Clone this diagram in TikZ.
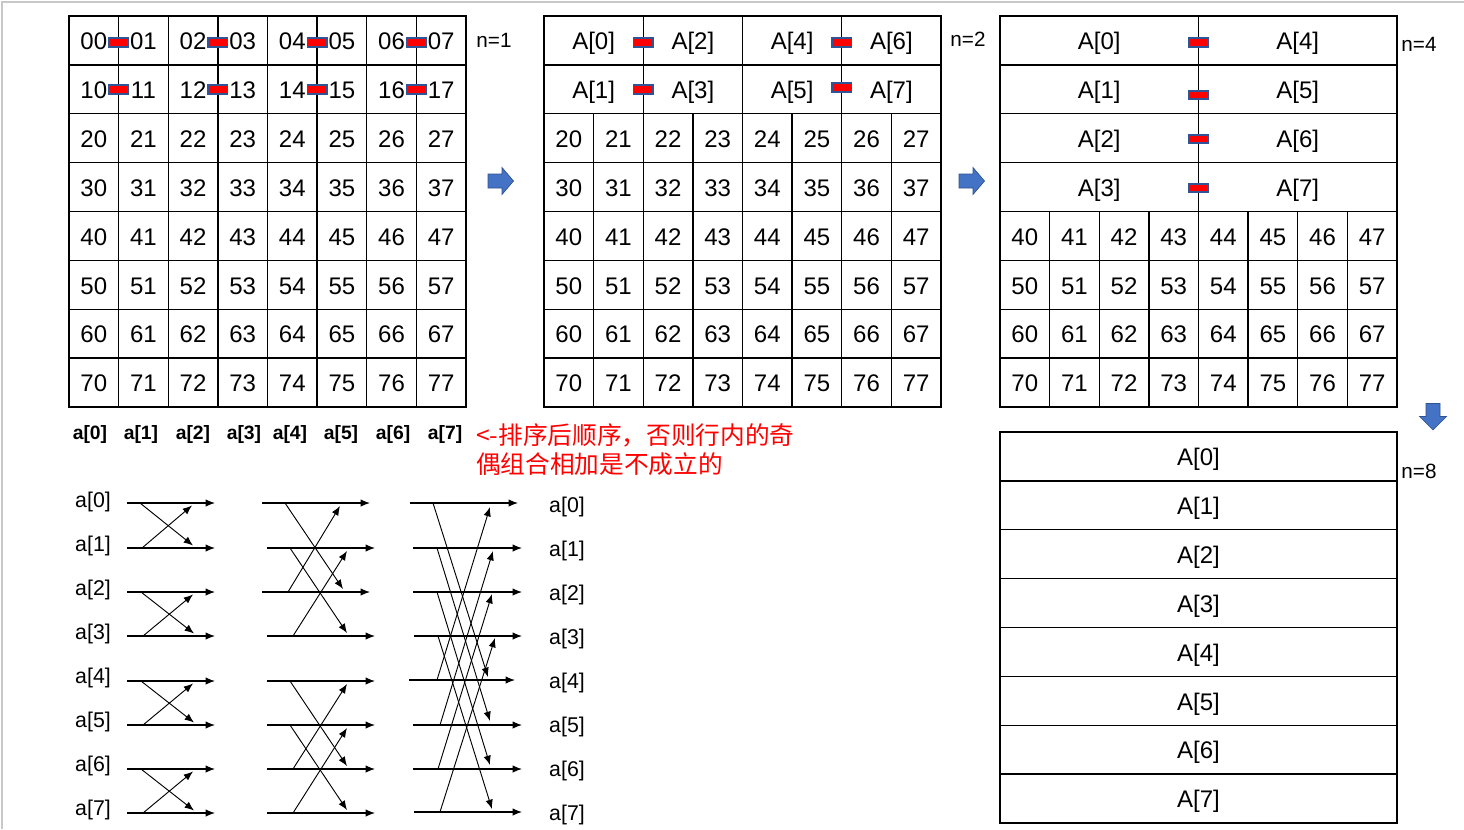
\documentclass[tikz,border=0pt]{standalone}
\usepackage{fontspec}
\setmainfont{Liberation Sans}
\newfontfamily\cjk{Noto Sans CJK SC}
\usetikzlibrary{arrows.meta}
\definecolor{markblue}{HTML}{2F5597}
\definecolor{arrblue}{HTML}{4472C4}
\definecolor{arredge}{HTML}{2F528F}
\definecolor{framegray}{HTML}{C8C8C8}
\begin{document}
\begin{tikzpicture}[x=0.75pt,y=-0.75pt,
  gridline/.style={line width=1.1pt, black},
  cell/.style={font=\fontsize{18}{21}\selectfont, inner sep=0pt, anchor=base},
  nlab/.style={font=\fontsize{15.5}{18}\selectfont, inner sep=0pt},
  collab/.style={font=\bfseries\fontsize{14.5}{17}\selectfont, inner sep=0pt},
  alab/.style={font=\fontsize{16}{18}\selectfont, inner sep=0pt},
  marker/.style={draw=markblue, fill=red, line width=1.3pt, minimum width=14.5pt, minimum height=6.5pt, inner sep=0pt},
  blockarrow/.style={fill=arrblue, draw=arredge, line width=0.5pt},
  hline/.style={line width=0.85pt, -{Latex[length=7pt,width=5.5pt]}},
  diag/.style={line width=0.7pt, -{Latex[length=7pt,width=5.5pt]}},
  redtext/.style={text=red, font=\cjk\fontsize{18.5}{21.75}\selectfont, align=left, inner sep=0pt}
]
\useasboundingbox (0,0) rectangle (1464,829);
\draw[framegray, line width=0.8pt] (2,829) -- (2,2) -- (1464,2);
\def\cw{49.625}
\def\ch{48.875}
\def\bo{9.2}
% ---------- grid 1 (n=1)
\draw[gridline] (69,16) rectangle (466,407);
\foreach \i in {1,...,7} {
  \draw[gridline] (69+\i*\cw,16) -- (69+\i*\cw,407);
  \draw[gridline] (69,16+\i*\ch) -- (466,16+\i*\ch);
}
\foreach \r in {0,...,7} \foreach \c in {0,...,7}
  \node[cell] (ga\r\c) at (69+\c*\cw+\cw/2, 16+\r*\ch+\ch/2+\bo) {\r\c};
\foreach \k in {0,...,3} {
  \node[marker] (ma0\k) at (69+2*\k*\cw+\cw, 42.5) {};
  \node[marker] (ma1\k) at (69+2*\k*\cw+\cw, 89.5) {};
}
\node[nlab] (n1) at (494,40) {n=1};
% ---------- arrow 1
\path[blockarrow] (488,174) -- (502,174) -- (502,167.5) -- (513.5,181) -- (502,194.5) -- (502,188) -- (488,188) -- cycle;
% ---------- grid 2 (n=2)
\draw[gridline] (544,16) rectangle (941,407);
\foreach \i in {1,...,7}
  \draw[gridline] (544,16+\i*\ch) -- (941,16+\i*\ch);
\foreach \i in {2,4,6}
  \draw[gridline] (544+\i*\cw,16) -- (544+\i*\cw,407);
\foreach \i in {1,3,5,7}
  \draw[gridline] (544+\i*\cw,16+2*\ch) -- (544+\i*\cw,407);
\foreach \k [evaluate=\k as \a using int(2*\k), evaluate=\k as \b using int(2*\k+1)] in {0,...,3} {
  \node[cell] (gb0\k) at (544+2*\k*\cw+\cw, 16+\ch/2+\bo) {A[\a]};
  \node[cell] (gb1\k) at (544+2*\k*\cw+\cw, 16+1.5*\ch+\bo) {A[\b]};
}
\foreach \r in {2,...,7} \foreach \c in {0,...,7}
  \node[cell] (gb\r\c) at (544+\c*\cw+\cw/2, 16+\r*\ch+\ch/2+\bo) {\r\c};
\node[marker] (mb00) at (643.25,42.5) {};
\node[marker] (mb01) at (841.75,42.5) {};
\node[marker] (mb10) at (643.25,89.5) {};
\node[marker] (mb11) at (841.75,87.5) {};
\node[nlab] (n2) at (968,39.5) {n=2};
% ---------- arrow 2
\path[blockarrow] (959,174) -- (973,174) -- (973,167.5) -- (984.5,181) -- (973,194.5) -- (973,188) -- (959,188) -- cycle;
% ---------- grid 3 (n=4)
\draw[gridline] (1000,16) rectangle (1397,407);
\foreach \i in {1,...,7}
  \draw[gridline] (1000,16+\i*\ch) -- (1397,16+\i*\ch);
\draw[gridline] (1000+4*\cw,16) -- (1000+4*\cw,407);
\foreach \i in {1,2,3,5,6,7}
  \draw[gridline] (1000+\i*\cw,16+4*\ch) -- (1000+\i*\cw,407);
\foreach \r [evaluate=\r as \b using int(\r+4)] in {0,...,3} {
  \node[cell] (gc\r0) at (1000+2*\cw, 16+\r*\ch+\ch/2+\bo) {A[\r]};
  \node[cell] (gc\r1) at (1000+6*\cw, 16+\r*\ch+\ch/2+\bo) {A[\b]};
}
\foreach \r in {4,...,7} \foreach \c in {0,...,7}
  \node[cell] (gc\r\c) at (1000+\c*\cw+\cw/2, 16+\r*\ch+\ch/2+\bo) {\r\c};
\foreach \r/\y in {0/42.5,1/95,2/139,3/188}
  \node[marker] (mc\r) at (1198.5,\y) {};
\node[nlab] (n4) at (1419,44) {n=4};
% ---------- arrow down
\path[blockarrow] (1426,403.5) -- (1440,403.5) -- (1440,416.5) -- (1446.5,416.5) -- (1433,430) -- (1419.5,416.5) -- (1426,416.5) -- cycle;
% ---------- grid 4 (n=8)
\draw[gridline] (1000,432) rectangle (1397,823);
\foreach \i in {1,...,7}
  \draw[gridline] (1000,432+\i*\ch) -- (1397,432+\i*\ch);
\foreach \r in {0,...,7}
  \node[cell] (gd\r) at (1198.5, 432+\r*\ch+\ch/2+\bo) {A[\r]};
\node[nlab] (n8) at (1419,471) {n=8};
% ---------- column labels under grid 1
\foreach \i/\x in {0/90,1/141,2/193,3/244,4/290,5/341,6/393,7/445}
  \node[collab] (cl\i) at (\x,434) {a[\i]};
\node[redtext, anchor=west] (note) at (476,449.5) {<-排序后顺序，否则行内的奇\\偶组合相加是不成立的};
% ---------- butterfly labels
\foreach \i in {0,...,7} {
  \node[alab] (L\i) at (93,502+44*\i) {a[\i]};
  \node[alab] (R\i) at (567,507+44*\i) {a[\i]};
}
% ---------- stage 1
\foreach \i/\y in {0/503,1/548,2/592,3/636,4/681,5/725,6/769,7/813} {
  \coordinate (p\i) at (127,\y);
  \coordinate (q\i) at (215,\y);
  \draw[hline] (p\i) -- (q\i);
}
\foreach \n/\xa/\ya/\xb/\yb in {
  0/140/503/193/545.5, 1/142/548/192/505.5,
  2/141/592/194/633.5, 3/143/636/193/594.5,
  4/141/681/194/722.5, 5/143/725/193/683.5,
  6/141/769/194/810.5, 7/143/813/193/771.5} {
  \coordinate (da\n) at (\xa,\ya);
  \coordinate (ea\n) at (\xb,\yb);
  \draw[diag] (da\n) -- (ea\n);
}
% ---------- stage 2
\foreach \i/\y/\xa/\xb in {0/503/262/370,1/548/267/375,2/592/262/370,3/636/267/375,
  4/681/267/375,5/725/267/375,6/769/267/375,7/813/267/375} {
  \coordinate (u\i) at (\xa,\y);
  \coordinate (v\i) at (\xb,\y);
  \draw[hline] (u\i) -- (v\i);
}
\foreach \n/\xa/\ya/\xb/\yb in {
  0/285/503/343/589, 1/290/548/347/633,
  2/288/592/340/506, 3/293/636/347/551,
  4/290/681/347/766, 5/290/725/347/810,
  6/293/769/347/684, 7/293/813/347/728} {
  \coordinate (db\n) at (\xa,\ya);
  \coordinate (eb\n) at (\xb,\yb);
  \draw[diag] (db\n) -- (eb\n);
}
% ---------- stage 3
\foreach \i/\y/\xa/\xb in {0/503/410/518,1/548/413/522,2/592/413/522,3/636/414/522,
  4/680/409/515,5/725/413/522,6/769/413/522,7/812/414/522} {
  \coordinate (s\i) at (\xa,\y);
  \coordinate (t\i) at (\xb,\y);
  \draw[hline] (s\i) -- (t\i);
}
\foreach \n/\xa/\ya/\xb/\yb in {
  0/433/503/488/677, 1/437/548/490/721, 2/437/592/490/765, 3/438/636/492/809,
  4/437/680/490/507, 5/440/725/493/551, 6/438/769/492/594, 7/440/812/495/638} {
  \coordinate (dc\n) at (\xa,\ya);
  \coordinate (ec\n) at (\xb,\yb);
  \draw[diag] (dc\n) -- (ec\n);
}
\end{tikzpicture}
\end{document}
